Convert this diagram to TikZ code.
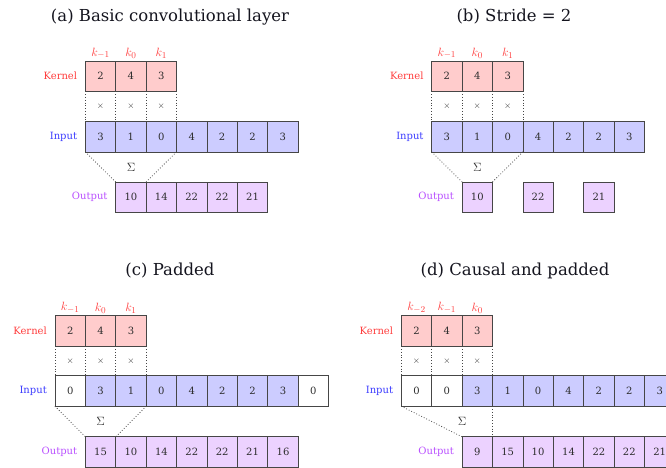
\documentclass[tikz,border=0pt]{standalone}
\usepackage{fontspec}
\setmainfont{DejaVu Serif}
\definecolor{kfill}{RGB}{255,204,204}
\definecolor{ifill}{RGB}{204,204,255}
\definecolor{ofill}{RGB}{236,210,255}
\definecolor{kred}{RGB}{255,60,60}
\definecolor{iblue}{RGB}{60,60,255}
\definecolor{opurple}{RGB}{185,80,255}
\definecolor{cellline}{RGB}{70,70,70}
\definecolor{numtext}{RGB}{45,45,45}
\definecolor{titletext}{RGB}{20,20,30}
\tikzset{
  cell/.style={draw=cellline, line width=0.8pt, minimum width=30.4pt, minimum height=30.4pt, inner sep=0pt, outer sep=0pt, font=\fontsize{10}{12}\selectfont, text=numtext},
  kcell/.style={cell, fill=kfill},
  icell/.style={cell, fill=ifill},
  pcell/.style={cell, fill=white},
  ocell/.style={cell, fill=ofill},
  rowlabel/.style={anchor=east, inner sep=0pt, font=\fontsize{10}{13}\selectfont},
  klabel/.style={anchor=south, inner sep=2pt, text=kred, font=\fontsize{13}{15}\selectfont},
  timesmark/.style={inner sep=0pt, font=\fontsize{9}{10}\selectfont, text=numtext},
  sigmamark/.style={inner sep=0pt, font=\fontsize{12}{14}\selectfont, text=numtext},
  dots/.style={dotted, line width=0.8pt, draw=cellline},
  paneltitle/.style={inner sep=0pt, text=titletext, font=\fontsize{16.5}{19}\selectfont}
}
\begin{document}
\begin{tikzpicture}[x=1pt,y=-1pt]
\useasboundingbox (0,0) rectangle (666,468);
\clip (0,0) rectangle (666,468);
\def\w{30.4}
% ---------------- (a)
\node[paneltitle] (a-title) at (170,17) {(a) Basic convolutional layer};
\foreach \v [count=\j from 0] in {2,4,3}
  \node[kcell] (a-k\j) at ({85.3+(\j+0.5)*\w},76.2) {\v};
\foreach \v [count=\j from 0] in {3,1,0,4,2,2,3}
  \node[icell] (a-i\j) at ({85.3+(\j+0.5)*\w},136.7) {\v};
\foreach \v [count=\j from 1] in {10,14,22,22,21}
  \node[ocell] (a-o\j) at ({85.3+(\j+0.5)*\w},197.2) {\v};
\node[klabel] (a-l0) at (a-k0.north) {$k_{-1}$};
\node[klabel] (a-l1) at (a-k1.north) {$k_{0}$};
\node[klabel] (a-l2) at (a-k2.north) {$k_{1}$};
\node[rowlabel, text=kred] (a-kl) at ([xshift=-8pt]a-k0.west) {Kernel};
\node[rowlabel, text=iblue] (a-il) at ([xshift=-8pt]a-i0.west) {Input};
\node[rowlabel, text=opurple] (a-ol) at ([xshift=-8pt]a-o1.west) {Output};
\foreach \j in {0,1,2} {
  \node[timesmark] (a-x\j) at ({85.3+(\j+0.5)*\w},106.5) {$\times$};
  \draw[dots] (a-k\j.south west) -- (a-i\j.north west);
}
\draw[dots] (a-k2.south east) -- (a-i2.north east);
\draw[dots] (a-i0.south west) -- (a-o1.north west);
\draw[dots] (a-i2.south east) -- (a-o1.north east);
\node[sigmamark] (a-s) at (131,167) {$\Sigma$};
% ---------------- (b)
\node[paneltitle] (b-title) at (514,17) {(b) Stride = 2};
\foreach \v [count=\j from 0] in {2,4,3}
  \node[kcell] (b-k\j) at ({431.7+(\j+0.5)*\w},76.2) {\v};
\foreach \v [count=\j from 0] in {3,1,0,4,2,2,3}
  \node[icell] (b-i\j) at ({431.7+(\j+0.5)*\w},136.7) {\v};
\foreach \p/\v in {1/10,3/22,5/21}
  \node[ocell] (b-o\p) at ({431.7+(\p+0.5)*\w},197.2) {\v};
\node[klabel] (b-l0) at (b-k0.north) {$k_{-1}$};
\node[klabel] (b-l1) at (b-k1.north) {$k_{0}$};
\node[klabel] (b-l2) at (b-k2.north) {$k_{1}$};
\node[rowlabel, text=kred] (b-kl) at ([xshift=-8pt]b-k0.west) {Kernel};
\node[rowlabel, text=iblue] (b-il) at ([xshift=-8pt]b-i0.west) {Input};
\node[rowlabel, text=opurple] (b-ol) at ([xshift=-8pt]b-o1.west) {Output};
\foreach \j in {0,1,2} {
  \node[timesmark] (b-x\j) at ({431.7+(\j+0.5)*\w},106.5) {$\times$};
  \draw[dots] (b-k\j.south west) -- (b-i\j.north west);
}
\draw[dots] (b-k2.south east) -- (b-i2.north east);
\draw[dots] (b-i0.south west) -- (b-o1.north west);
\draw[dots] (b-i2.south east) -- (b-o1.north east);
\node[sigmamark] (b-s) at ({431.7+1.5*\w},167) {$\Sigma$};
% ---------------- (c)
\node[paneltitle] (c-title) at (170,271) {(c) Padded};
\foreach \v [count=\j from 0] in {2,4,3}
  \node[kcell] (c-k\j) at ({55+(\j+0.5)*\w},331) {\v};
\node[pcell] (c-i0) at ({55+0.5*\w},391) {0};
\foreach \v [count=\j from 1] in {3,1,0,4,2,2,3}
  \node[icell] (c-i\j) at ({55+(\j+0.5)*\w},391) {\v};
\node[pcell] (c-i8) at ({55+8.5*\w},391) {0};
\foreach \v [count=\j from 1] in {15,10,14,22,22,21,16}
  \node[ocell] (c-o\j) at ({55+(\j+0.5)*\w},452) {\v};
\node[klabel] (c-l0) at (c-k0.north) {$k_{-1}$};
\node[klabel] (c-l1) at (c-k1.north) {$k_{0}$};
\node[klabel] (c-l2) at (c-k2.north) {$k_{1}$};
\node[rowlabel, text=kred] (c-kl) at ([xshift=-8pt]c-k0.west) {Kernel};
\node[rowlabel, text=iblue] (c-il) at ([xshift=-8pt]c-i0.west) {Input};
\node[rowlabel, text=opurple] (c-ol) at ([xshift=-8pt]c-o1.west) {Output};
\foreach \j in {0,1,2} {
  \node[timesmark] (c-x\j) at ({55+(\j+0.5)*\w},361) {$\times$};
  \draw[dots] (c-k\j.south west) -- (c-i\j.north west);
}
\draw[dots] (c-k2.south east) -- (c-i2.north east);
\draw[dots] (c-i0.south west) -- (c-o1.north west);
\draw[dots] (c-i2.south east) -- (c-o1.north east);
\node[sigmamark] (c-s) at ({55+1.5*\w},421.5) {$\Sigma$};
% ---------------- (d)
\node[paneltitle] (d-title) at (515,271) {(d) Causal and padded};
\foreach \v [count=\j from 0] in {2,4,3}
  \node[kcell] (d-k\j) at ({401.3+(\j+0.5)*\w},331) {\v};
\node[pcell] (d-i0) at ({401.3+0.5*\w},391) {0};
\node[pcell] (d-i1) at ({401.3+1.5*\w},391) {0};
\foreach \v [count=\j from 2] in {3,1,0,4,2,2,3}
  \node[icell] (d-i\j) at ({401.3+(\j+0.5)*\w},391) {\v};
\foreach \v [count=\j from 2] in {9,15,10,14,22,22,21}
  \node[ocell] (d-o\j) at ({401.3+(\j+0.5)*\w},452) {\v};
\node[klabel] (d-l0) at (d-k0.north) {$k_{-2}$};
\node[klabel] (d-l1) at (d-k1.north) {$k_{-1}$};
\node[klabel] (d-l2) at (d-k2.north) {$k_{0}$};
\node[rowlabel, text=kred] (d-kl) at ([xshift=-8pt]d-k0.west) {Kernel};
\node[rowlabel, text=iblue] (d-il) at ([xshift=-8pt]d-i0.west) {Input};
\node[rowlabel, text=opurple] (d-ol) at ([xshift=-8pt]d-o2.west) {Output};
\foreach \j in {0,1,2} {
  \node[timesmark] (d-x\j) at ({401.3+(\j+0.5)*\w},361) {$\times$};
  \draw[dots] (d-k\j.south west) -- (d-i\j.north west);
}
\draw[dots] (d-k2.south east) -- (d-i2.north east);
\draw[dots] (d-i0.south west) -- (d-o2.north west);
\draw[dots] (d-i2.south east) -- (d-o2.north east);
\node[sigmamark] (d-s) at ({401.3+2*\w},421.5) {$\Sigma$};
\end{tikzpicture}
\end{document}
